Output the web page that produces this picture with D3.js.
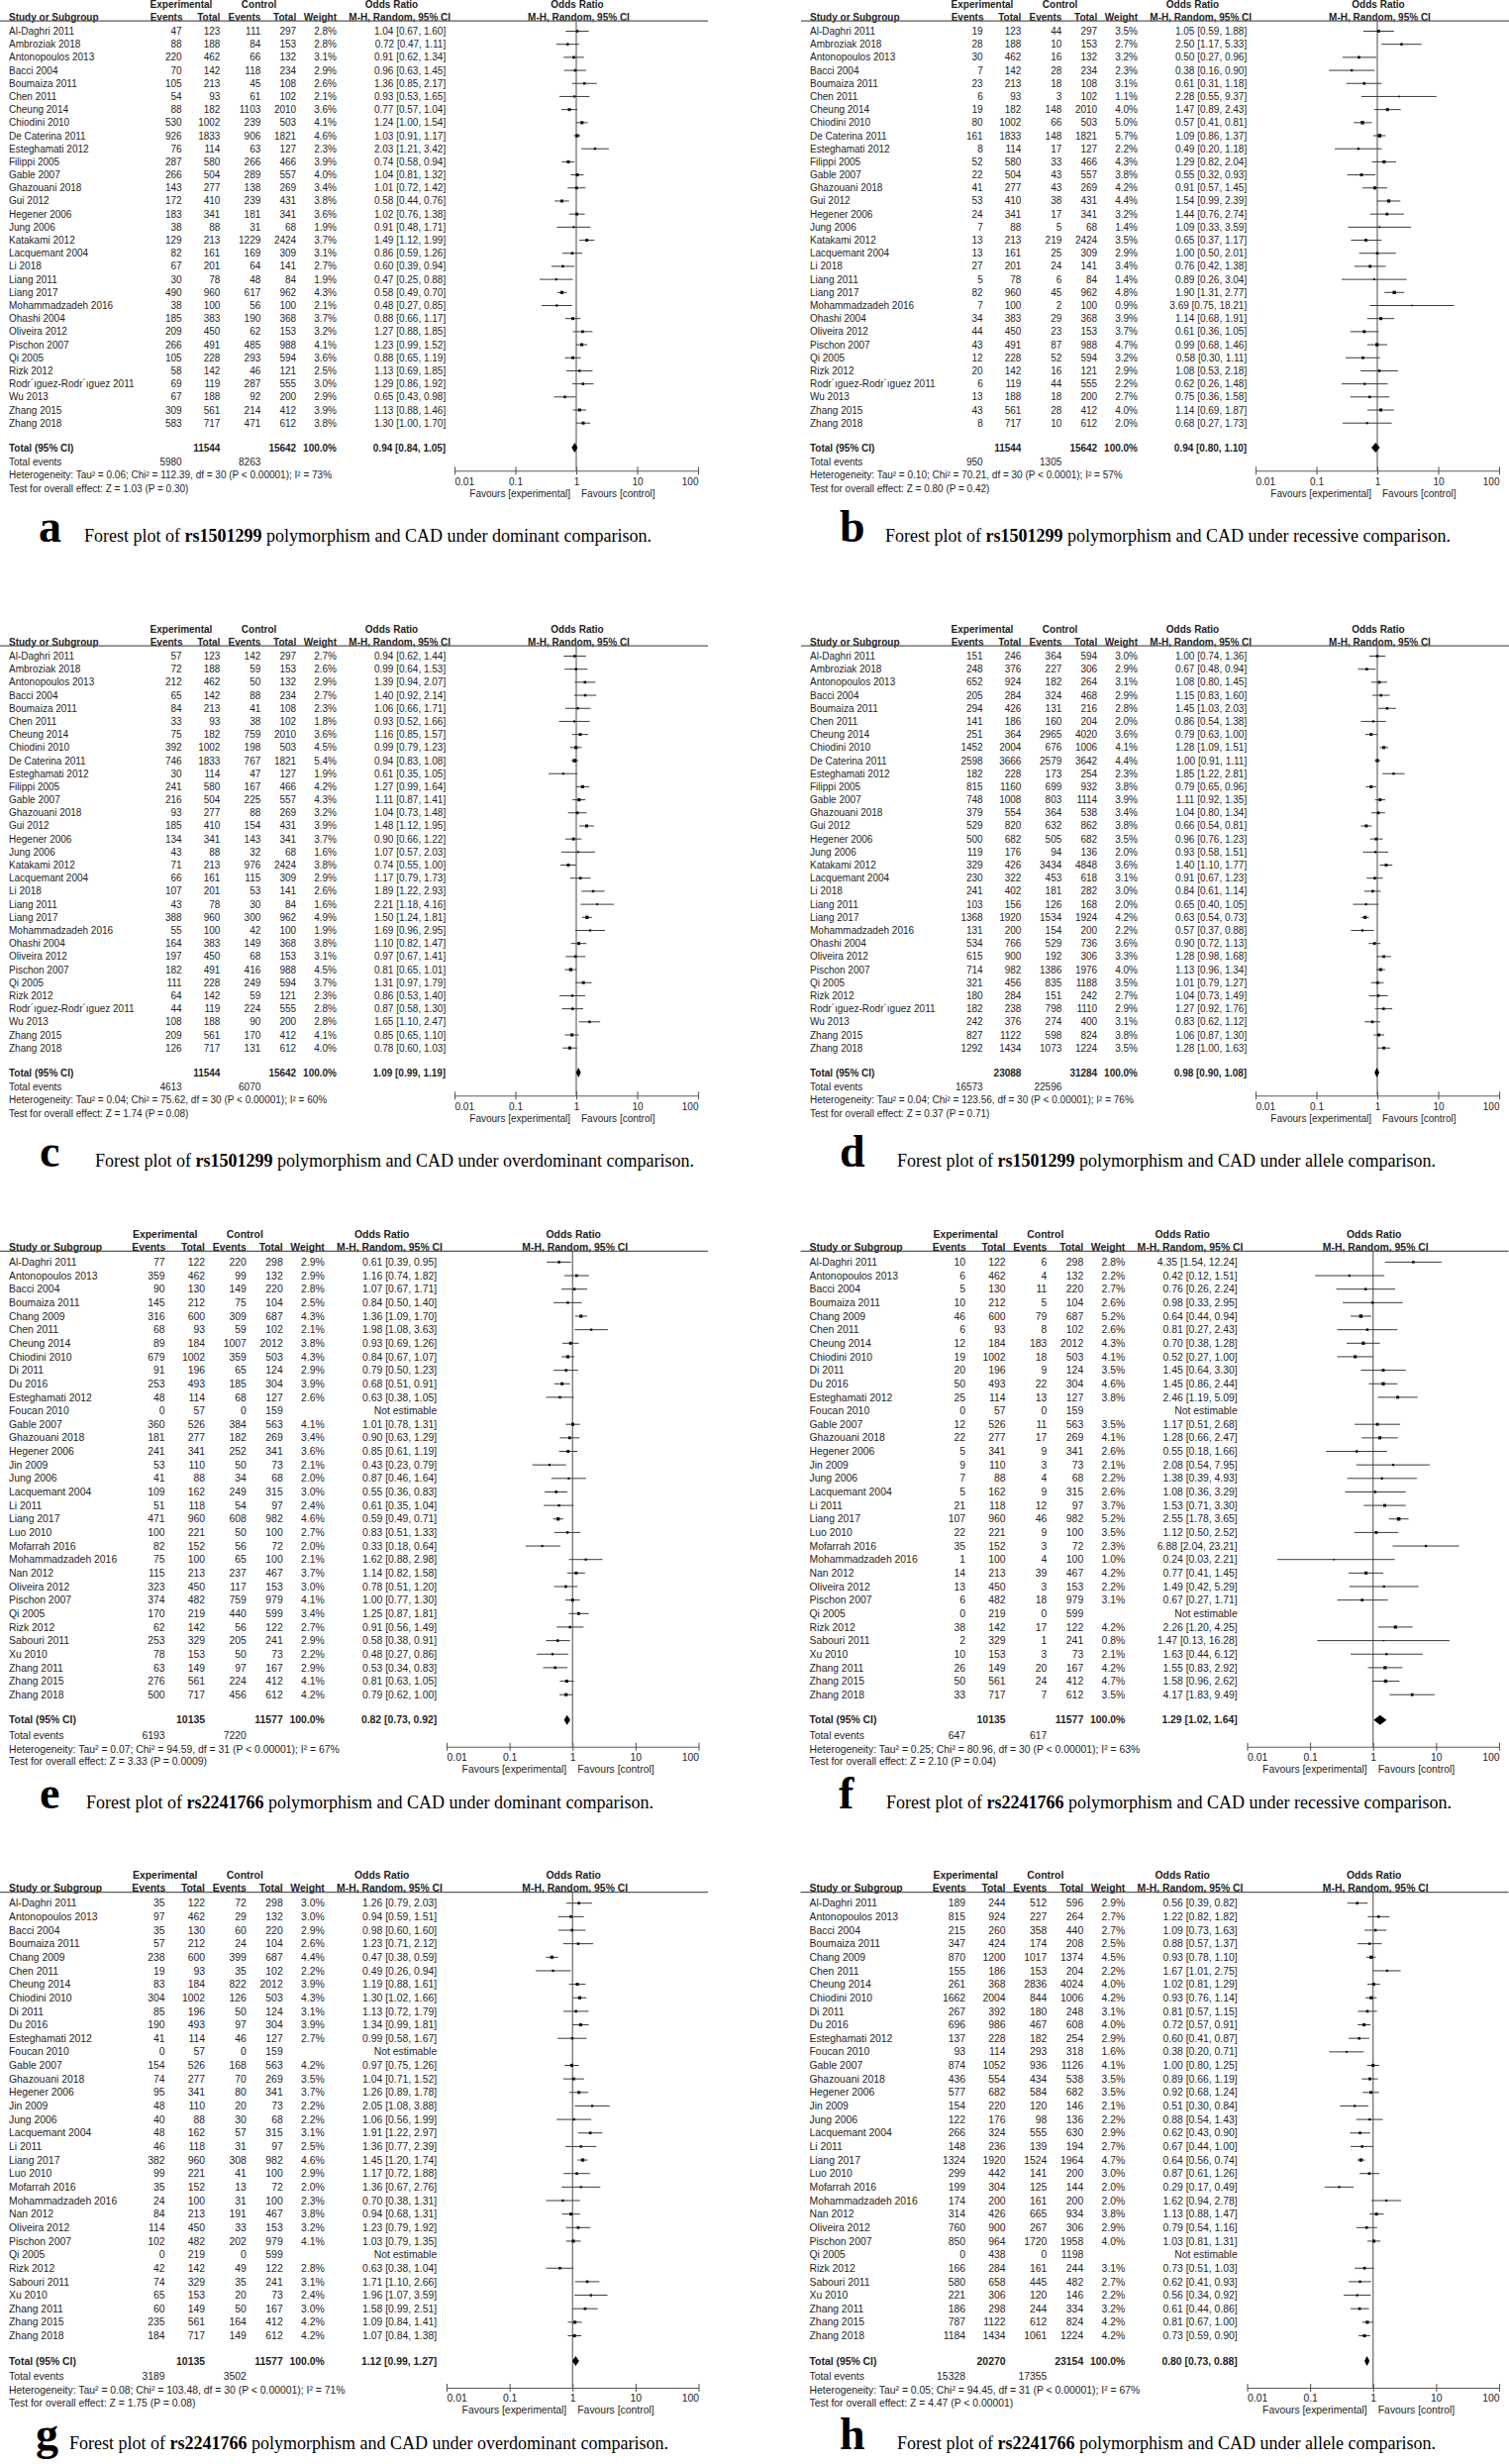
<!DOCTYPE html>
<html><head><meta charset="utf-8">
<script src="https://cdn.jsdelivr.net/npm/d3@7"></script>
<style>
html,body{margin:0;padding:0;background:#fff;}
svg{display:block;}
</style></head><body>
<svg id="chart" width="1524" height="2488"></svg>
<script>
// ================= DATA =================
const studiesRs1501299 = ["Al-Daghri 2011","Ambroziak 2018","Antonopoulos 2013","Bacci 2004","Boumaiza 2011","Chen 2011","Cheung 2014","Chiodini 2010","De Caterina 2011","Esteghamati 2012","Filippi 2005","Gable 2007","Ghazouani 2018","Gui 2012","Hegener 2006","Jung 2006","Katakami 2012","Lacquemant 2004","Li 2018","Liang 2011","Liang 2017","Mohammadzadeh 2016","Ohashi 2004","Oliveira 2012","Pischon 2007","Qi 2005","Rizk 2012","Rodr\u00B4\u0131guez-Rodr\u00B4\u0131guez 2011","Wu 2013","Zhang 2015","Zhang 2018"];
const studiesRs2241766 = ["Al-Daghri 2011","Antonopoulos 2013","Bacci 2004","Boumaiza 2011","Chang 2009","Chen 2011","Cheung 2014","Chiodini 2010","Di 2011","Du 2016","Esteghamati 2012","Foucan 2010","Gable 2007","Ghazouani 2018","Hegener 2006","Jin 2009","Jung 2006","Lacquemant 2004","Li 2011","Liang 2017","Luo 2010","Mofarrah 2016","Mohammadzadeh 2016","Nan 2012","Oliveira 2012","Pischon 2007","Qi 2005","Rizk 2012","Sabouri 2011","Xu 2010","Zhang 2011","Zhang 2015","Zhang 2018"];

const tickValues = [0.01, 0.1, 1, 10, 100];
const tickLabels = ["0.01", "0.1", "1", "10", "100"];

// --- panel a: rs1501299 dominant ---
const aExpEvents = [47,88,220,70,105,54,88,530,926,76,287,266,143,172,183,38,129,82,67,30,490,38,185,209,266,105,58,69,67,309,583];
const aExpTotal  = [123,188,462,142,213,93,182,1002,1833,114,580,504,277,410,341,88,213,161,201,78,960,100,383,450,491,228,142,119,188,561,717];
const aCtlEvents = [111,84,66,118,45,61,1103,239,906,63,266,289,138,239,181,31,1229,169,64,48,617,56,190,62,485,293,46,287,92,214,471];
const aCtlTotal  = [297,153,132,234,108,102,2010,503,1821,127,466,557,269,431,341,68,2424,309,141,84,962,100,368,153,988,594,121,555,200,412,612];
const aWeight = [2.8,2.8,3.1,2.9,2.6,2.1,3.6,4.1,4.6,2.3,3.9,4.0,3.4,3.8,3.6,1.9,3.7,3.1,2.7,1.9,4.3,2.1,3.7,3.2,4.1,3.6,2.5,3.0,2.9,3.9,3.8];
const aOR    = [1.04,0.72,0.91,0.96,1.36,0.93,0.77,1.24,1.03,2.03,0.74,1.04,1.01,0.58,1.02,0.91,1.49,0.86,0.60,0.47,0.58,0.48,0.88,1.27,1.23,0.88,1.13,1.29,0.65,1.13,1.30];
const aLower = [0.67,0.47,0.62,0.63,0.85,0.53,0.57,1.00,0.91,1.21,0.58,0.81,0.72,0.44,0.76,0.48,1.12,0.59,0.39,0.25,0.49,0.27,0.66,0.88,0.99,0.65,0.69,0.86,0.43,0.88,1.00];
const aUpper = [1.60,1.11,1.34,1.45,2.17,1.65,1.04,1.54,1.17,3.42,0.94,1.32,1.42,0.76,1.38,1.71,1.99,1.26,0.94,0.88,0.70,0.85,1.17,1.85,1.52,1.19,1.85,1.92,0.98,1.46,1.70];
const aTotals = [11544, 15642, 0.94, 0.84, 1.05, 5980, 8263];
const aHet  = "Heterogeneity: Tau\u00B2 = 0.06; Chi\u00B2 = 112.39, df = 30 (P < 0.00001); I\u00B2 = 73%";
const aTest = "Test for overall effect: Z = 1.03 (P = 0.30)";

// --- panel b: rs1501299 recessive ---
const bExpEvents = [19,28,30,7,23,6,19,80,161,8,52,22,41,53,24,7,13,13,27,5,82,7,34,44,43,12,20,6,13,43,8];
const bExpTotal  = [123,188,462,142,213,93,182,1002,1833,114,580,504,277,410,341,88,213,161,201,78,960,100,383,450,491,228,142,119,188,561,717];
const bCtlEvents = [44,10,16,28,18,3,148,66,148,17,33,43,43,38,17,5,219,25,24,6,45,2,29,23,87,52,16,44,18,28,10];
const bCtlTotal  = [297,153,132,234,108,102,2010,503,1821,127,466,557,269,431,341,68,2424,309,141,84,962,100,368,153,988,594,121,555,200,412,612];
const bWeight = [3.5,2.7,3.2,2.3,3.1,1.1,4.0,5.0,5.7,2.2,4.3,3.8,4.2,4.4,3.2,1.4,3.5,2.9,3.4,1.4,4.8,0.9,3.9,3.7,4.7,3.2,2.9,2.2,2.7,4.0,2.0];
const bOR    = [1.05,2.50,0.50,0.38,0.61,2.28,1.47,0.57,1.09,0.49,1.29,0.55,0.91,1.54,1.44,1.09,0.65,1.00,0.76,0.89,1.90,3.69,1.14,0.61,0.99,0.58,1.08,0.62,0.75,1.14,0.68];
const bLower = [0.59,1.17,0.27,0.16,0.31,0.55,0.89,0.41,0.86,0.20,0.82,0.32,0.57,0.99,0.76,0.33,0.37,0.50,0.42,0.26,1.31,0.75,0.68,0.36,0.68,0.30,0.53,0.26,0.36,0.69,0.27];
const bUpper = [1.88,5.33,0.96,0.90,1.18,9.37,2.43,0.81,1.37,1.18,2.04,0.93,1.45,2.39,2.74,3.59,1.17,2.01,1.38,3.04,2.77,18.21,1.91,1.05,1.46,1.11,2.18,1.48,1.58,1.87,1.73];
const bTotals = [11544, 15642, 0.94, 0.80, 1.10, 950, 1305];
const bHet  = "Heterogeneity: Tau\u00B2 = 0.10; Chi\u00B2 = 70.21, df = 30 (P < 0.0001); I\u00B2 = 57%";
const bTest = "Test for overall effect: Z = 0.80 (P = 0.42)";

// --- panel c: rs1501299 overdominant ---
const cExpEvents = [57,72,212,65,84,33,75,392,746,30,241,216,93,185,134,43,71,66,107,43,388,55,164,197,182,111,64,44,108,209,126];
const cExpTotal  = [123,188,462,142,213,93,182,1002,1833,114,580,504,277,410,341,88,213,161,201,78,960,100,383,450,491,228,142,119,188,561,717];
const cCtlEvents = [142,59,50,88,41,38,759,198,767,47,167,225,88,154,143,32,976,115,53,30,300,42,149,68,416,249,59,224,90,170,131];
const cCtlTotal  = [297,153,132,234,108,102,2010,503,1821,127,466,557,269,431,341,68,2424,309,141,84,962,100,368,153,988,594,121,555,200,412,612];
const cWeight = [2.7,2.6,2.9,2.7,2.3,1.8,3.6,4.5,5.4,1.9,4.2,4.3,3.2,3.9,3.7,1.6,3.8,2.9,2.6,1.6,4.9,1.9,3.8,3.1,4.5,3.7,2.3,2.8,2.8,4.1,4.0];
const cOR    = [0.94,0.99,1.39,1.40,1.06,0.93,1.16,0.99,0.94,0.61,1.27,1.11,1.04,1.48,0.90,1.07,0.74,1.17,1.89,2.21,1.50,1.69,1.10,0.97,0.81,1.31,0.86,0.87,1.65,0.85,0.78];
const cLower = [0.62,0.64,0.94,0.92,0.66,0.52,0.85,0.79,0.83,0.35,0.99,0.87,0.73,1.12,0.66,0.57,0.55,0.79,1.22,1.18,1.24,0.96,0.82,0.67,0.65,0.97,0.53,0.58,1.10,0.65,0.60];
const cUpper = [1.44,1.53,2.07,2.14,1.71,1.66,1.57,1.23,1.08,1.05,1.64,1.41,1.48,1.95,1.22,2.03,1.00,1.73,2.93,4.16,1.81,2.95,1.47,1.41,1.01,1.79,1.40,1.30,2.47,1.10,1.03];
const cTotals = [11544, 15642, 1.09, 0.99, 1.19, 4613, 6070];
const cHet  = "Heterogeneity: Tau\u00B2 = 0.04; Chi\u00B2 = 75.62, df = 30 (P < 0.00001); I\u00B2 = 60%";
const cTest = "Test for overall effect: Z = 1.74 (P = 0.08)";

// --- panel d: rs1501299 allele ---
const dExpEvents = [151,248,652,205,294,141,251,1452,2598,182,815,748,379,529,500,119,329,230,241,103,1368,131,534,615,714,321,180,182,242,827,1292];
const dExpTotal  = [246,376,924,284,426,186,364,2004,3666,228,1160,1008,554,820,682,176,426,322,402,156,1920,200,766,900,982,456,284,238,376,1122,1434];
const dCtlEvents = [364,227,182,324,131,160,2965,676,2579,173,699,803,364,632,505,94,3434,453,181,126,1534,154,529,192,1386,835,151,798,274,598,1073];
const dCtlTotal  = [594,306,264,468,216,204,4020,1006,3642,254,932,1114,538,862,682,136,4848,618,282,168,1924,200,736,306,1976,1188,242,1110,400,824,1224];
const dWeight = [3.0,2.9,3.1,2.9,2.8,2.0,3.6,4.1,4.4,2.3,3.8,3.9,3.4,3.8,3.5,2.0,3.6,3.1,3.0,2.0,4.2,2.2,3.6,3.3,4.0,3.5,2.7,2.9,3.1,3.8,3.5];
const dOR    = [1.00,0.67,1.08,1.15,1.45,0.86,0.79,1.28,1.00,1.85,0.79,1.11,1.04,0.66,0.96,0.93,1.40,0.91,0.84,0.65,0.63,0.57,0.90,1.28,1.13,1.01,1.04,1.27,0.83,1.06,1.28];
const dLower = [0.74,0.48,0.80,0.83,1.03,0.54,0.63,1.09,0.91,1.22,0.65,0.92,0.80,0.54,0.76,0.58,1.10,0.67,0.61,0.40,0.54,0.37,0.72,0.98,0.96,0.79,0.73,0.92,0.62,0.87,1.00];
const dUpper = [1.36,0.94,1.45,1.60,2.03,1.38,1.00,1.51,1.11,2.81,0.96,1.35,1.34,0.81,1.23,1.51,1.77,1.23,1.14,1.05,0.73,0.88,1.13,1.68,1.34,1.27,1.49,1.76,1.12,1.30,1.63];
const dTotals = [23088, 31284, 0.98, 0.90, 1.08, 16573, 22596];
const dHet  = "Heterogeneity: Tau\u00B2 = 0.04; Chi\u00B2 = 123.56, df = 30 (P < 0.00001); I\u00B2 = 76%";
const dTest = "Test for overall effect: Z = 0.37 (P = 0.71)";

// --- panel e: rs2241766 dominant ---
const eExpEvents = [77,359,90,145,316,68,89,679,91,253,48,0,360,181,241,53,41,109,51,471,100,82,75,115,323,374,170,62,253,78,63,276,500];
const eExpTotal  = [122,462,130,212,600,93,184,1002,196,493,114,57,526,277,341,110,88,162,118,960,221,152,100,213,450,482,219,142,329,153,149,561,717];
const eCtlEvents = [220,99,149,75,309,59,1007,359,65,185,68,0,384,182,252,50,34,249,54,608,50,56,65,237,117,759,440,56,205,50,97,224,456];
const eCtlTotal  = [298,132,220,104,687,102,2012,503,124,304,127,159,563,269,341,73,68,315,97,982,100,72,100,467,153,979,599,122,241,73,167,412,612];
const eWeight = [2.9,2.9,2.8,2.5,4.3,2.1,3.8,4.3,2.9,3.9,2.6,null,4.1,3.4,3.6,2.1,2.0,3.0,2.4,4.6,2.7,2.0,2.1,3.7,3.0,4.1,3.4,2.7,2.9,2.2,2.9,4.1,4.2];
const eOR    = [0.61,1.16,1.07,0.84,1.36,1.98,0.93,0.84,0.79,0.68,0.63,null,1.01,0.90,0.85,0.43,0.87,0.55,0.61,0.59,0.83,0.33,1.62,1.14,0.78,1.00,1.25,0.91,0.58,0.48,0.53,0.81,0.79];
const eLower = [0.39,0.74,0.67,0.50,1.09,1.08,0.69,0.67,0.50,0.51,0.38,null,0.78,0.63,0.61,0.23,0.46,0.36,0.35,0.49,0.51,0.18,0.88,0.82,0.51,0.77,0.87,0.56,0.38,0.27,0.34,0.63,0.62];
const eUpper = [0.95,1.82,1.71,1.40,1.70,3.63,1.26,1.07,1.23,0.91,1.05,null,1.31,1.29,1.19,0.79,1.64,0.83,1.04,0.71,1.33,0.64,2.98,1.58,1.20,1.30,1.81,1.49,0.91,0.86,0.83,1.05,1.00];
const eTotals = [10135, 11577, 0.82, 0.73, 0.92, 6193, 7220];
const eHet  = "Heterogeneity: Tau\u00B2 = 0.07; Chi\u00B2 = 94.59, df = 31 (P < 0.00001); I\u00B2 = 67%";
const eTest = "Test for overall effect: Z = 3.33 (P = 0.0009)";

// --- panel f: rs2241766 recessive ---
const fExpEvents = [10,6,5,10,46,6,12,19,20,50,25,0,12,22,5,9,7,5,21,107,22,35,1,14,13,6,0,38,2,10,26,50,33];
const fExpTotal  = [122,462,130,212,600,93,184,1002,196,493,114,57,526,277,341,110,88,162,118,960,221,152,100,213,450,482,219,142,329,153,149,561,717];
const fCtlEvents = [6,4,11,5,79,8,183,18,9,22,13,0,11,17,9,3,4,9,12,46,9,3,4,39,3,18,0,17,1,3,20,24,7];
const fCtlTotal  = [298,132,220,104,687,102,2012,503,124,304,127,159,563,269,341,73,68,315,97,982,100,72,100,467,153,979,599,122,241,73,167,412,612];
const fWeight = [2.8,2.2,2.7,2.6,5.2,2.6,4.3,4.1,3.5,4.6,3.8,null,3.5,4.1,2.6,2.1,2.2,2.6,3.7,5.2,3.5,2.3,1.0,4.2,2.2,3.1,null,4.2,0.8,2.1,4.2,4.7,3.5];
const fOR    = [4.35,0.42,0.76,0.98,0.64,0.81,0.70,0.52,1.45,1.45,2.46,null,1.17,1.28,0.55,2.08,1.38,1.08,1.53,2.55,1.12,6.88,0.24,0.77,1.49,0.67,null,2.26,1.47,1.63,1.55,1.58,4.17];
const fLower = [1.54,0.12,0.26,0.33,0.44,0.27,0.38,0.27,0.64,0.86,1.19,null,0.51,0.66,0.18,0.54,0.39,0.36,0.71,1.78,0.50,2.04,0.03,0.41,0.42,0.27,null,1.20,0.13,0.44,0.83,0.96,1.83];
const fUpper = [12.24,1.51,2.24,2.95,0.94,2.43,1.28,1.00,3.30,2.44,5.09,null,2.68,2.47,1.66,7.95,4.93,3.29,3.30,3.65,2.52,23.21,2.21,1.45,5.29,1.71,null,4.25,16.28,6.12,2.92,2.62,9.49];
const fTotals = [10135, 11577, 1.29, 1.02, 1.64, 647, 617];
const fHet  = "Heterogeneity: Tau\u00B2 = 0.25; Chi\u00B2 = 80.96, df = 30 (P < 0.00001); I\u00B2 = 63%";
const fTest = "Test for overall effect: Z = 2.10 (P = 0.04)";

// --- panel g: rs2241766 overdominant ---
const gExpEvents = [35,97,35,57,238,19,83,304,85,190,41,0,154,74,95,48,40,48,46,382,99,35,24,84,114,102,0,42,74,65,60,235,184];
const gExpTotal  = [122,462,130,212,600,93,184,1002,196,493,114,57,526,277,341,110,88,162,118,960,221,152,100,213,450,482,219,142,329,153,149,561,717];
const gCtlEvents = [72,29,60,24,399,35,822,126,50,97,46,0,168,70,80,20,30,57,31,308,41,13,31,191,33,202,0,49,35,20,50,164,149];
const gCtlTotal  = [298,132,220,104,687,102,2012,503,124,304,127,159,563,269,341,73,68,315,97,982,100,72,100,467,153,979,599,122,241,73,167,412,612];
const gWeight = [3.0,3.0,2.9,2.6,4.4,2.2,3.9,4.3,3.1,3.9,2.7,null,4.2,3.5,3.7,2.2,2.2,3.1,2.5,4.6,2.9,2.0,2.3,3.8,3.2,4.1,null,2.8,3.1,2.4,3.0,4.2,4.2];
const gOR    = [1.26,0.94,0.98,1.23,0.47,0.49,1.19,1.30,1.13,1.34,0.99,null,0.97,1.04,1.26,2.05,1.06,1.91,1.36,1.45,1.17,1.36,0.70,0.94,1.23,1.03,null,0.63,1.71,1.96,1.58,1.09,1.07];
const gLower = [0.79,0.59,0.60,0.71,0.38,0.26,0.88,1.02,0.72,0.99,0.58,null,0.75,0.71,0.89,1.08,0.56,1.22,0.77,1.20,0.72,0.67,0.38,0.68,0.79,0.79,null,0.38,1.10,1.07,0.99,0.84,0.84];
const gUpper = [2.03,1.51,1.60,2.12,0.59,0.94,1.61,1.66,1.79,1.81,1.67,null,1.26,1.52,1.78,3.88,1.99,2.97,2.39,1.74,1.88,2.76,1.31,1.31,1.92,1.35,null,1.04,2.66,3.59,2.51,1.41,1.38];
const gTotals = [10135, 11577, 1.12, 0.99, 1.27, 3189, 3502];
const gHet  = "Heterogeneity: Tau\u00B2 = 0.08; Chi\u00B2 = 103.48, df = 30 (P < 0.00001); I\u00B2 = 71%";
const gTest = "Test for overall effect: Z = 1.75 (P = 0.08)";

// --- panel h: rs2241766 allele ---
const hExpEvents = [189,815,215,347,870,155,261,1662,267,696,137,93,874,436,577,154,122,266,148,1324,299,199,174,314,760,850,0,166,580,221,186,787,1184];
const hExpTotal  = [244,924,260,424,1200,186,368,2004,392,986,228,114,1052,554,682,220,176,324,236,1920,442,304,200,426,900,964,438,284,658,306,298,1122,1434];
const hCtlEvents = [512,227,358,174,1017,153,2836,844,180,467,182,293,936,434,584,120,98,555,139,1524,141,125,161,665,267,1720,0,161,445,120,244,612,1061];
const hCtlTotal  = [596,264,440,208,1374,204,4024,1006,248,608,254,318,1126,538,682,146,136,630,194,1964,200,144,200,934,306,1958,1198,244,482,146,334,824,1224];
const hWeight = [2.9,2.7,2.7,2.5,4.5,2.2,4.0,4.2,3.1,4.0,2.9,1.6,4.1,3.5,3.5,2.1,2.2,2.9,2.7,4.7,3.0,2.0,2.0,3.8,2.9,4.0,null,3.1,2.7,2.2,3.2,4.2,4.2];
const hOR    = [0.56,1.22,1.09,0.88,0.93,1.67,1.02,0.93,0.81,0.72,0.60,0.38,1.00,0.89,0.92,0.51,0.88,0.62,0.67,0.64,0.87,0.29,1.62,1.13,0.79,1.03,null,0.73,0.62,0.56,0.61,0.81,0.73];
const hLower = [0.39,0.82,0.73,0.57,0.78,1.01,0.81,0.76,0.57,0.57,0.41,0.20,0.80,0.66,0.68,0.30,0.54,0.43,0.44,0.56,0.61,0.17,0.94,0.88,0.54,0.81,null,0.51,0.41,0.34,0.44,0.67,0.59];
const hUpper = [0.82,1.82,1.63,1.37,1.10,2.75,1.29,1.14,1.15,0.91,0.87,0.71,1.25,1.19,1.24,0.84,1.43,0.90,1.00,0.74,1.26,0.49,2.78,1.47,1.16,1.31,null,1.03,0.93,0.92,0.86,1.00,0.90];
const hTotals = [20270, 23154, 0.80, 0.73, 0.88, 15328, 17355];
const hHet  = "Heterogeneity: Tau\u00B2 = 0.05; Chi\u00B2 = 94.45, df = 31 (P < 0.00001); I\u00B2 = 67%";
const hTest = "Test for overall effect: Z = 4.47 (P < 0.00001)";

const captionLetters = ["a","b","c","d","e","f","g","h"];
const captionSnps    = ["rs1501299","rs1501299","rs1501299","rs1501299","rs2241766","rs2241766","rs2241766","rs2241766"];
const captionModels  = ["dominant","recessive","overdominant","allele","dominant","recessive","overdominant","allele"];

// ================= LAYOUT =================
const layoutTop = { // panels a-d
  fs: 10, step: 13.19,
  name: 9, expEv: 183.7, expTot: 222.4, ctlEv: 263.3, ctlTot: 299.2, weight: 340, orRight: 450.2,
  hdrExp: 183, hdrCtl: 261.6, hdrOR: 395.5, hdrMH: 403.7,
  plotL: 459, plotR: 705, ruleR: 715,
  h1: -27.2, h2: -14.3, rule: -10.3, total: 420.6, events: 435.2, het: 448.4, test: 461.7,
  axis: 443.8, tickLab: 455.1, fav: 467, cap: 510.2
};
const layoutBottom = { // panels e-h
  fs: 10.4, step: 13.65,
  name: 9, expEv: 166.5, expTot: 207, ctlEv: 248.8, ctlTot: 285.7, weight: 327.8, orRight: 441.2,
  hdrExp: 166.7, hdrCtl: 247.3, hdrOR: 385.7, hdrMH: 393.5,
  plotL: 451, plotR: 705.5, ruleR: 715,
  h1: -28.3, h2: -14.9, rule: -11.1, total: 462.4, events: 477.6, het: 491.6, test: 504.3,
  axis: 489.3, tickLab: 500, fav: 511.6, cap: 545.6
};

const panels = [
  {x0:0,     y0:31.5,   L:layoutTop,    studies:studiesRs1501299, ee:aExpEvents, et:aExpTotal, ce:aCtlEvents, ct:aCtlTotal, w:aWeight, or:aOR, lo:aLower, hi:aUpper, tot:aTotals, het:aHet, test:aTest, capL:39,  capT:85},
  {x0:809,   y0:31.5,   L:layoutTop,    studies:studiesRs1501299, ee:bExpEvents, et:bExpTotal, ce:bCtlEvents, ct:bCtlTotal, w:bWeight, or:bOR, lo:bLower, hi:bUpper, tot:bTotals, het:bHet, test:bTest, capL:848, capT:894},
  {x0:0,     y0:662.5,  L:layoutTop,    studies:studiesRs1501299, ee:cExpEvents, et:cExpTotal, ce:cCtlEvents, ct:cCtlTotal, w:cWeight, or:cOR, lo:cLower, hi:cUpper, tot:cTotals, het:cHet, test:cTest, capL:40,  capT:96},
  {x0:809,   y0:662.5,  L:layoutTop,    studies:studiesRs1501299, ee:dExpEvents, et:dExpTotal, ce:dCtlEvents, ct:dCtlTotal, w:dWeight, or:dOR, lo:dLower, hi:dUpper, tot:dTotals, het:dHet, test:dTest, capL:848, capT:906},
  {x0:0,     y0:1274.4, L:layoutBottom, studies:studiesRs2241766, ee:eExpEvents, et:eExpTotal, ce:eCtlEvents, ct:eCtlTotal, w:eWeight, or:eOR, lo:eLower, hi:eUpper, tot:eTotals, het:eHet, test:eTest, capL:40,  capT:87},
  {x0:808.5, y0:1274.4, L:layoutBottom, studies:studiesRs2241766, ee:fExpEvents, et:fExpTotal, ce:fCtlEvents, ct:fCtlTotal, w:fWeight, or:fOR, lo:fLower, hi:fUpper, tot:fTotals, het:fHet, test:fTest, capL:847, capT:895},
  {x0:0,     y0:1921.7, L:layoutBottom, studies:studiesRs2241766, ee:gExpEvents, et:gExpTotal, ce:gCtlEvents, ct:gCtlTotal, w:gWeight, or:gOR, lo:gLower, hi:gUpper, tot:gTotals, het:gHet, test:gTest, capL:36,  capT:70},
  {x0:808.5, y0:1921.7, L:layoutBottom, studies:studiesRs2241766, ee:hExpEvents, et:hExpTotal, ce:hCtlEvents, ct:hCtlTotal, w:hWeight, or:hOR, lo:hLower, hi:hUpper, tot:hTotals, het:hHet, test:hTest, capL:848, capT:906}
];

// ================= DRAW =================
const svg = d3.select("#chart");
svg.append("rect").attr("width",1524).attr("height",2488).attr("fill","#fff");
const TXT = "#1e1e1e", LINE = "#5a5a5a";
const f2 = d3.format(".2f"), f1 = d3.format(".1f");

function orText(o, l, h) { return o == null ? "Not estimable" : `${f2(o)} [${f2(l)}, ${f2(h)}]`; }

panels.forEach((p, pi) => {
  const L = p.L;
  const g = svg.append("g").attr("transform", `translate(${p.x0},${p.y0})`)
    .style("font-family", "'Liberation Sans', Arial, sans-serif").style("font-size", L.fs + "px");
  const n = p.studies.length;
  const y = d3.scaleLinear().domain([0, n - 1]).range([0, (n - 1) * L.step]);
  const x = d3.scaleLog().domain([0.01, 100]).range([L.plotL, L.plotR]);

  const txt = (sel, tx, ty, s, anchor, bold) => sel.append("text")
    .attr("x", tx).attr("y", ty).attr("dy", "0.35em").attr("text-anchor", anchor || "start")
    .attr("fill", TXT).attr("font-weight", bold ? "bold" : null).text(s);

  // header rows
  txt(g, L.hdrExp, L.h1, "Experimental", "middle", true);
  txt(g, L.hdrCtl, L.h1, "Control", "middle", true);
  txt(g, L.hdrOR, L.h1, "Odds Ratio", "middle", true);
  txt(g, x(1) + 1, L.h1, "Odds Ratio", "middle", true);
  txt(g, L.name, L.h2, "Study or Subgroup", "start", true);
  txt(g, L.expEv + 0.8, L.h2, "Events", "end", true);
  txt(g, L.expTot, L.h2, "Total", "end", true);
  txt(g, L.ctlEv, L.h2, "Events", "end", true);
  txt(g, L.ctlTot, L.h2, "Total", "end", true);
  txt(g, L.weight, L.h2, "Weight", "end", true);
  txt(g, L.hdrMH, L.h2, "M-H, Random, 95% CI", "middle", true);
  txt(g, x(1) + 2.5, L.h2, "M-H, Random, 95% CI", "middle", true);
  g.append("line").attr("x1", 0).attr("x2", L.ruleR).attr("y1", L.rule).attr("y2", L.rule)
    .attr("stroke", LINE).attr("stroke-width", 1.3);

  // null line
  g.append("line").attr("x1", x(1)).attr("x2", x(1)).attr("y1", L.rule).attr("y2", L.axis)
    .attr("stroke", LINE).attr("stroke-width", 1.1);

  // study rows
  const rows = g.selectAll("g.row").data(d3.range(n)).join("g").attr("class", "row")
    .attr("transform", i => `translate(0,${y(i)})`);
  rows.each(function (i) {
    const r = d3.select(this);
    txt(r, L.name, 0, p.studies[i], "start");
    txt(r, L.expEv, 0, p.ee[i], "end");
    txt(r, L.expTot, 0, p.et[i], "end");
    txt(r, L.ctlEv, 0, p.ce[i], "end");
    txt(r, L.ctlTot, 0, p.ct[i], "end");
    if (p.w[i] != null) txt(r, L.weight, 0, f1(p.w[i]) + "%", "end");
    txt(r, L.orRight, 0, orText(p.or[i], p.lo[i], p.hi[i]), "end");
    if (p.or[i] != null) {
      r.append("line").attr("x1", x(p.lo[i])).attr("x2", x(p.hi[i])).attr("y1", 0).attr("y2", 0)
        .attr("stroke", "#3a3a3a").attr("stroke-width", 1);
      const s = 1.55 * Math.sqrt(p.w[i]);
      r.append("rect").attr("x", x(p.or[i]) - s / 2).attr("y", -s / 2).attr("width", s).attr("height", s)
        .attr("fill", "#111");
    }
  });

  // totals
  const t = p.tot;
  txt(g, L.name, L.total, "Total (95% CI)", "start", true);
  txt(g, L.expTot, L.total, t[0], "end", true);
  txt(g, L.ctlTot, L.total, t[1], "end", true);
  txt(g, L.weight, L.total, "100.0%", "end", true);
  txt(g, L.orRight, L.total, orText(t[2], t[3], t[4]), "end", true);
  g.append("path")
    .attr("d", `M${x(t[3])},${L.total} L${x(t[2])},${L.total - 5} L${x(t[4])},${L.total} L${x(t[2])},${L.total + 5} Z`)
    .attr("fill", "#000");
  txt(g, L.name, L.events, "Total events", "start");
  txt(g, L.expEv, L.events, t[5], "end");
  txt(g, L.ctlEv, L.events, t[6], "end");
  txt(g, L.name, L.het, p.het, "start");
  txt(g, L.name, L.test, p.test, "start");

  // axis
  const ax = g.append("g").attr("transform", `translate(0,${L.axis})`)
    .call(d3.axisBottom(x).tickValues(tickValues).tickFormat((d, i) => tickLabels[i]).tickSizeOuter(0).tickSizeInner(4));
  ax.select(".domain").attr("stroke", LINE).attr("stroke-width", 1.1);
  ax.selectAll(".tick line").attr("y1", -4).attr("y2", 4).attr("stroke", LINE).attr("stroke-width", 1.1);
  ax.selectAll(".tick text").attr("y", L.tickLab - L.axis).attr("dy", "0.35em")
    .attr("fill", TXT).style("font-family", "'Liberation Sans', Arial, sans-serif").style("font-size", L.fs + "px")
    .attr("text-anchor", (d, i) => i === 0 ? "start" : (i === tickValues.length - 1 ? "end" : "middle"));
  txt(g, x(1) - 6, L.fav, "Favours [experimental]", "end");
  txt(g, x(1) + 5, L.fav, "Favours [control]", "start");

  // caption
  const capY = L.cap + 5.5;
  svg.append("text").attr("x", p.capL).attr("y", p.y0 + capY)
    .style("font-family", "'Liberation Serif', 'Times New Roman', serif").style("font-size", "46px")
    .attr("font-weight", "bold").attr("fill", "#000").text(captionLetters[pi]);
  const ct = svg.append("text").attr("x", p.capT).attr("y", p.y0 + capY)
    .style("font-family", "'Liberation Serif', 'Times New Roman', serif").style("font-size", "18px").attr("fill", "#000");
  ct.append("tspan").text("Forest plot of ");
  ct.append("tspan").attr("font-weight", "bold").text(captionSnps[pi]);
  ct.append("tspan").text(` polymorphism and CAD under ${captionModels[pi]} comparison.`);
});
</script>
</body></html>
